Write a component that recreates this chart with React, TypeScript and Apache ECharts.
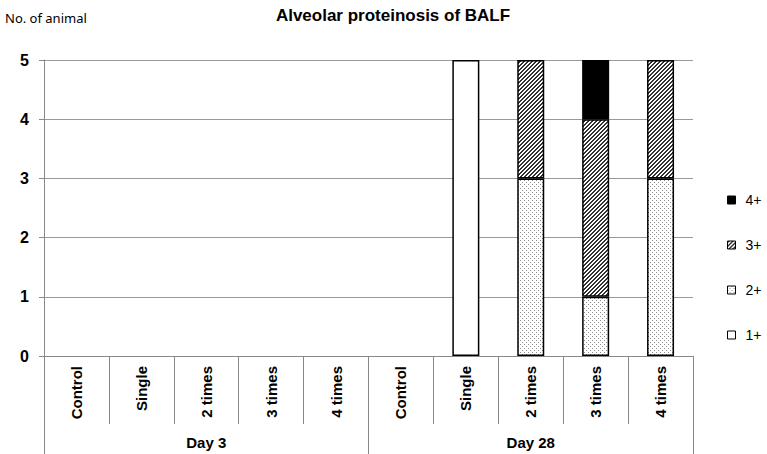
import React, { useEffect, useRef } from "react";
import * as echarts from "echarts";

const categories = ["Control", "Single", "2 times", "3 times", "4 times", "Control", "Single", "2 times", "3 times", "4 times"];
const groups = ["Day 3", "Day 28"];
const grade1 = [0, 0, 0, 0, 0, 0, 5, 0, 0, 0];
const grade2 = [0, 0, 0, 0, 0, 0, 0, 3, 1, 3];
const grade3 = [0, 0, 0, 0, 0, 0, 0, 2, 3, 2];
const grade4 = [0, 0, 0, 0, 0, 0, 0, 0, 1, 0];
const yTicks = [0, 1, 2, 3, 4, 5];

function makeCanvas(size: number, draw: (ctx: CanvasRenderingContext2D) => void) {
  const c = document.createElement("canvas");
  c.width = size;
  c.height = size;
  const ctx = c.getContext("2d")!;
  draw(ctx);
  return c;
}

export default function App() {
  const ref = useRef<HTMLDivElement>(null);
  useEffect(() => {
    if (!ref.current) return;
    const chart = echarts.init(ref.current, undefined, { renderer: "svg" });

    const dots = makeCanvas(4, (ctx) => {
      ctx.fillStyle = "#ffffff";
      ctx.fillRect(0, 0, 4, 4);
      ctx.fillStyle = "#8a8a8a";
      ctx.fillRect(0, 0, 1, 1);
      ctx.fillRect(2, 2, 1, 1);
    });
    const hatch = makeCanvas(4, (ctx) => {
      ctx.fillStyle = "#ffffff";
      ctx.fillRect(0, 0, 4, 4);
      ctx.fillStyle = "#303030";
      for (let x = 0; x < 4; x++) {
        for (let y = 0; y < 4; y++) {
          if ((x + y) % 4 < 2) ctx.fillRect(x, y, 1, 1);
        }
      }
    });

    const toData = (arr: number[]) => arr.map((v) => (v === 0 ? null : v));
    const mk = (name: string, data: number[], color: any) => ({
      name,
      type: "bar",
      stack: "total",
      barWidth: 27,
      data: toData(data),
      itemStyle: { color, borderColor: "#000", borderWidth: 1.5 },
    });

    chart.setOption({
      animation: false,
      title: [
        {
          text: "Alveolar proteinosis of BALF",
          left: 388,
          textAlign: "center",
          top: 2,
          textStyle: { fontFamily: "Liberation Sans", fontWeight: "bold", fontSize: 17, color: "#000" },
        },
        {
          text: "No. of animal",
          left: 0,
          top: 6,
          textStyle: { fontFamily: "Noto Sans", fontWeight: "normal", fontSize: 13, color: "#000" },
        },
      ],
      legend: {
        orient: "vertical",
        left: 722,
        top: 187,
        itemWidth: 8,
        itemHeight: 8,
        itemGap: 29,
        icon: "rect",
        data: ["4+", "3+", "2+", "1+"],
        textStyle: { fontFamily: "Liberation Sans", fontSize: 14, color: "#000", lineHeight: 16, padding: [0, 0, 0, 5] },
        itemStyle: { borderColor: "#000", borderWidth: 1 },
      },
      grid: { left: 44, right: 74, top: 60, bottom: 98 },
      xAxis: [
        {
          type: "category",
          data: categories,
          axisLine: { show: true, lineStyle: { color: "#888", width: 1 } },
          axisTick: { show: true, length: 68, interval: 0, lineStyle: { color: "#888" } },
          axisLabel: {
            interval: 0,
            rotate: 90,
            margin: 10,
            fontFamily: "Liberation Sans",
            fontWeight: "bold",
            fontSize: 15,
            color: "#000",
          },
        },
        {
          type: "category",
          data: groups,
          position: "bottom",
          axisLine: { show: false },
          axisTick: { show: true, length: 100, interval: 0, lineStyle: { color: "#888" } },
          axisLabel: {
            interval: 0,
            margin: 79,
            fontFamily: "Liberation Sans",
            fontWeight: "bold",
            fontSize: 15,
            color: "#000",
          },
        },
      ],
      yAxis: {
        type: "value",
        min: yTicks[0],
        max: yTicks[yTicks.length - 1],
        interval: 1,
        axisLine: { show: true, lineStyle: { color: "#888" } },
        axisTick: { show: true, length: 5, lineStyle: { color: "#888" } },
        splitLine: { lineStyle: { color: "#999", width: 1 } },
        axisLabel: {
          margin: 15,
          fontFamily: "Liberation Sans",
          fontWeight: "bold",
          fontSize: 16,
          color: "#000",
        },
      },
      series: [
        mk("1+", grade1, "#ffffff"),
        mk("2+", grade2, { image: dots, repeat: "repeat" }),
        mk("3+", grade3, { image: hatch, repeat: "repeat" }),
        mk("4+", grade4, "#000000"),
      ],
    });
    return () => chart.dispose();
  }, []);
  return <div ref={ref} style={{ width: 767, height: 454, position: "absolute", left: 0, top: 0 }} />;
}
